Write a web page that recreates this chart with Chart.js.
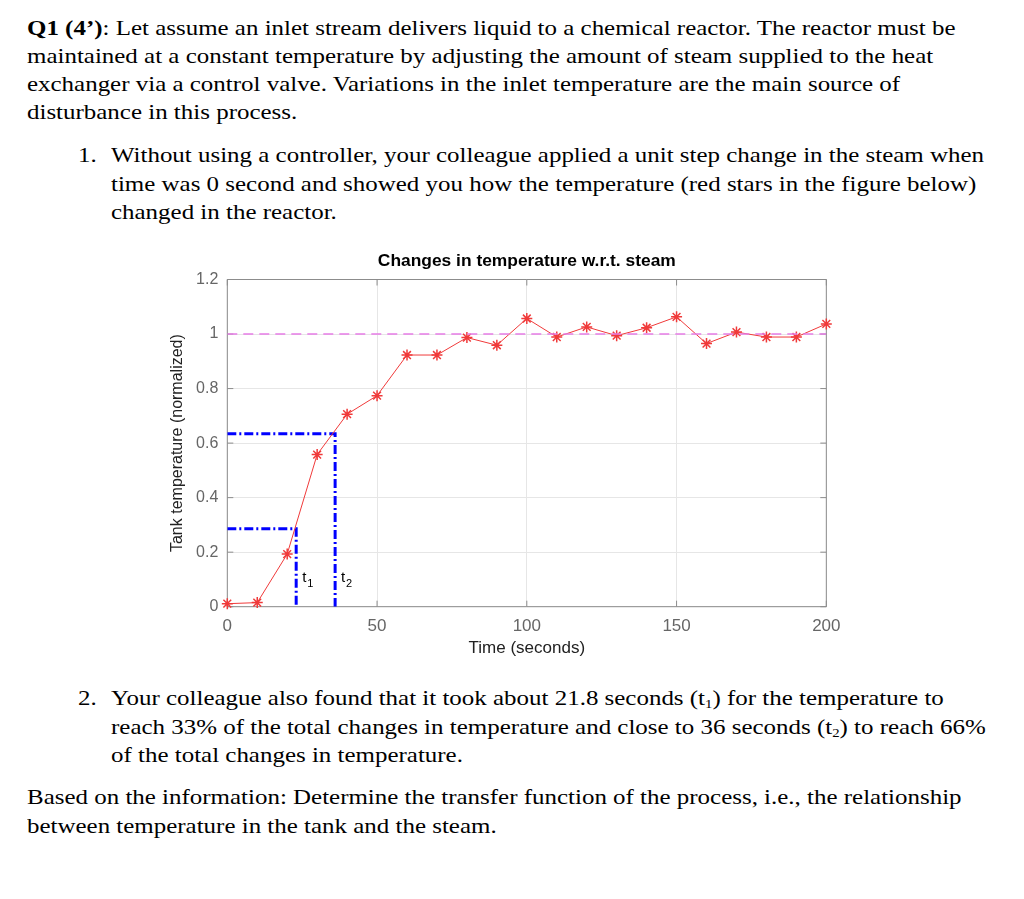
<!DOCTYPE html>
<html>
<head>
<meta charset="utf-8">
<script src="https://cdn.jsdelivr.net/npm/chart.js@4.4.0/dist/chart.umd.min.js"></script>
<style>
  body { margin: 0; width: 1024px; height: 899px; background: #fff; overflow: hidden; position: relative; }
  .t { position: absolute; font-family: "Liberation Serif", "Times New Roman", serif; font-size: 22px; line-height: 28px; white-space: nowrap; color: #000;
       transform: scaleX(1.134); transform-origin: 0 0; }
  .t sub { font-size: 13px; vertical-align: -3px; line-height: 0; }
  #box { position: absolute; left: 150px; top: 240px; width: 700px; height: 430px; }
</style>
</head>
<body>
<div class="t" style="left:27px;top:14px"><b>Q1 (4’)</b>: Let assume an inlet stream delivers liquid to a chemical reactor. The reactor must be</div>
<div class="t" style="left:27px;top:42px">maintained at a constant temperature by adjusting the amount of steam supplied to the heat</div>
<div class="t" style="left:27px;top:70px">exchanger via a control valve. Variations in the inlet temperature are the main source of</div>
<div class="t" style="left:27px;top:98px">disturbance in this process.</div>
<div class="t" style="left:78px;top:141px">1.</div>
<div class="t" style="left:111px;top:141px">Without using a controller, your colleague applied a unit step change in the steam when</div>
<div class="t" style="left:111px;top:170px">time was 0 second and showed you how the temperature (red stars in the figure below)</div>
<div class="t" style="left:111px;top:198px">changed in the reactor.</div>

<div id="box"><canvas id="myChart"></canvas></div>

<div class="t" style="left:78px;top:684px">2.</div>
<div class="t" style="left:111px;top:684px">Your colleague also found that it took about 21.8 seconds (t<sub>1</sub>) for the temperature to</div>
<div class="t" style="left:111px;top:713px">reach 33% of the total changes in temperature and close to 36 seconds (t<sub>2</sub>) to reach 66%</div>
<div class="t" style="left:111px;top:741px">of the total changes in temperature.</div>
<div class="t" style="left:27px;top:783px">Based on the information: Determine the transfer function of the process, i.e., the relationship</div>
<div class="t" style="left:27px;top:812px">between temperature in the tank and the steam.</div>

<script>
  // time in seconds, temperature normalized
  const times = [0, 10, 20, 30, 40, 50, 60, 70, 80, 90, 100, 110, 120, 130, 140, 150, 160, 170, 180, 190, 200];
  const temps = [0.011, 0.015, 0.193, 0.558, 0.706, 0.774, 0.923, 0.923, 0.987, 0.959, 1.057,
                 0.989, 1.026, 0.994, 1.023, 1.063, 0.965, 1.007, 0.989, 0.989, 1.037];

  // t1 / t2 markers (as drawn in the figure)
  const markTimes = [23, 36];
  const markTemps = [0.286, 0.634];
  const markNames = ["1", "2"];

  const finalValue = 1;
  const xTicks = [0, 50, 100, 150, 200];
  const yTicks = [0, 0.2, 0.4, 0.6, 0.8, 1, 1.2];
  const chartTitle = "Changes in temperature w.r.t. steam";

  const tempPoints = times.map(function (t, i) { return { x: t, y: temps[i] }; });

  function markPath(i) {
    return [
      { x: 0, y: markTemps[i] },
      { x: markTimes[i], y: markTemps[i] },
      { x: markTimes[i], y: 0 },
    ];
  }

  // matlab style box + inner tick marks + title over the plot + t1/t2 labels
  const boxPlugin = {
    id: "box",
    beforeDatasetsDraw: function (chart) {
      const ctx = chart.ctx;
      const a = chart.chartArea;
      const xs = chart.scales.x;
      const ys = chart.scales.y;
      ctx.save();
      ctx.strokeStyle = "#8c8c8c";
      ctx.lineWidth = 1;
      ctx.beginPath();
      ctx.rect(a.left, a.top, a.right - a.left, a.bottom - a.top);
      xTicks.forEach(function (v) {
        const px = xs.getPixelForValue(v);
        ctx.moveTo(px, a.bottom); ctx.lineTo(px, a.bottom - 6);
        ctx.moveTo(px, a.top); ctx.lineTo(px, a.top + 6);
      });
      yTicks.forEach(function (v) {
        const py = ys.getPixelForValue(v);
        ctx.moveTo(a.left, py); ctx.lineTo(a.left + 6, py);
        ctx.moveTo(a.right, py); ctx.lineTo(a.right - 6, py);
      });
      ctx.stroke();

      ctx.fillStyle = "#000";
      ctx.font = "bold 17.4px 'Liberation Sans', Arial, sans-serif";
      ctx.textAlign = "center";
      ctx.textBaseline = "middle";
      ctx.fillText(chartTitle, (a.left + a.right) / 2, a.top - 18.5);
      ctx.restore();
    },
    afterDatasetsDraw: function (chart) {
      const ctx = chart.ctx;
      const xs = chart.scales.x;
      const ys = chart.scales.y;
      ctx.save();
      ctx.fillStyle = "#000";
      ctx.textBaseline = "alphabetic";
      markTimes.forEach(function (t, i) {
        const px = xs.getPixelForValue(t) + 6;
        const py = ys.getPixelForValue(0.09);
        ctx.font = "15px 'Liberation Sans', Arial, sans-serif";
        ctx.fillText("t", px, py);
        ctx.font = "11px 'Liberation Sans', Arial, sans-serif";
        ctx.fillText(markNames[i], px + 5, py + 5);
      });
      ctx.restore();
    },
  };

  Chart.defaults.font.family = "'Liberation Sans', Arial, sans-serif";
  Chart.defaults.animation = false;

  const config = {
    type: "scatter",
    data: {
      datasets: [
        {
          data: tempPoints,
          showLine: true,
          borderColor: "#f03a3a",
          backgroundColor: "#f03a3a",
          borderWidth: 1,
          pointStyle: "star",
          pointRadius: 5.5,
          pointBorderWidth: 1.5,
          clip: false,
          order: 1,
        },
        {
          data: [{ x: 0, y: finalValue }, { x: 200, y: finalValue }],
          showLine: true,
          borderColor: "#e67ce6",
          borderWidth: 1.6,
          borderDash: [10, 6],
          pointRadius: 0,
          order: 0,
        },
        {
          data: markPath(0),
          showLine: true,
          borderColor: "#0000ff",
          borderWidth: 3,
          borderDash: [9, 3, 2, 3],
          pointRadius: 0,
          order: 2,
        },
        {
          data: markPath(1),
          showLine: true,
          borderColor: "#0000ff",
          borderWidth: 3,
          borderDash: [9, 3, 2, 3],
          pointRadius: 0,
          order: 2,
        },
      ],
    },
    options: {
      responsive: true,
      maintainAspectRatio: false,
      layout: { padding: { left: 0, right: 18.7, top: 39.5, bottom: 0 } },
      plugins: {
        legend: { display: false },
        tooltip: { enabled: false },
        title: { display: false },
      },
      scales: {
        x: {
          type: "linear",
          min: 0,
          max: 200,
          afterFit: function (s) { s.height = 63.3; },
          afterBuildTicks: function (s) { s.ticks = xTicks.map(function (v) { return { value: v }; }); },
          ticks: { color: "#666", font: { size: 17 }, padding: 9.5, maxRotation: 0 },
          grid: { color: "#e6e6e6", drawTicks: false },
          border: { display: false },
          title: { display: true, text: "Time (seconds)", color: "#222", font: { size: 17 }, padding: { top: 0, bottom: 11.8 } },
        },
        y: {
          min: 0,
          max: 1.2,
          afterFit: function (s) { s.width = 77.3; },
          afterBuildTicks: function (s) { s.ticks = yTicks.map(function (v) { return { value: v }; }); },
          ticks: {
            color: "#666",
            font: { size: 16 },
            padding: 9,
            callback: function (v) { return String(+v.toFixed(1)); },
          },
          grid: { color: "#e6e6e6", drawTicks: false },
          border: { display: false },
          title: { display: true, text: "Tank temperature (normalized)", color: "#222", font: { size: 16 }, padding: { top: 18.4, bottom: 0 } },
        },
      },
    },
    plugins: [boxPlugin],
  };

  const myChart = new Chart(document.getElementById("myChart"), config);
</script>
</body>
</html>
